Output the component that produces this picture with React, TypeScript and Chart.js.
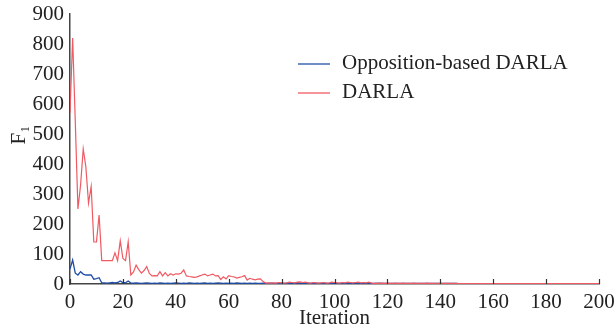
import React, { useEffect, useRef } from "react";
import { Chart, registerables } from "chart.js";

Chart.register(...registerables);

const ITERATIONS: number[] = Array.from({ length: 201 }, (_, i) => i);

const OPPOSITION_DARLA: number[] = [
  50, 80, 36, 30, 41, 33, 30, 30, 30, 16,
  18, 21, 4, 4, 3, 4, 5, 4, 5, 10,
  5, 4, 10, 3, 3, 4, 3, 2, 3, 4,
  3, 2, 3, 2, 4, 3, 2, 3, 2, 3,
  4, 3, 2, 3, 2, 4, 3, 2, 3, 2,
  3, 4, 2, 3, 2, 3, 4, 3, 2, 3,
  2, 3, 2, 4, 3, 2, 3, 2, 3, 2,
  3, 2, 2, 3, 2, 2, 3, 2, 2, 3,
  2, 2, 3, 2, 2, 3, 4, 3, 2, 2,
  3, 2, 2, 3, 2, 2, 3, 2, 2, 2,
  3, 2, 2, 2, 3, 2, 2, 2, 3, 2,
  2, 2, 3, 2, 2, 2, 2, 3, 2, 2,
  2, 2, 2, 2, 2, 2, 2, 2, 2, 2,
  2, 2, 2, 2, 2, 2, 2, 2, 2, 2,
  2, 2, 2, 2, 2, 2, 2, 1, 1, 1,
  1, 1, 1, 1, 1, 1, 1, 1, 1, 1,
  1, 1, 1, 1, 1, 1, 1, 1, 1, 1,
  1, 1, 1, 1, 1, 1, 1, 1, 1, 1,
  1, 1, 1, 1, 1, 1, 1, 1, 1, 1,
  1, 1, 1, 1, 1, 1, 1, 1, 1, 1,
  1,
];

const DARLA: number[] = [
  570, 820, 540, 250, 330, 450, 390, 270, 325, 140,
  140, 230, 78, 78, 78, 78, 78, 104, 78, 144,
  85, 78, 141, 30, 40, 63, 48, 36, 45, 58,
  35, 27, 28, 27, 41, 27, 38, 27, 34, 30,
  34, 33, 36, 47, 27, 25, 24, 22, 24, 27,
  30, 33, 27, 30, 33, 27, 28, 15, 24, 17,
  28, 25, 24, 20, 22, 24, 28, 13, 19, 16,
  14, 16, 17, 8, 3, 4, 3, 4, 3, 5,
  4, 3, 4, 6, 5, 4, 6, 7, 5, 6,
  4, 3, 5, 4, 3, 4, 5, 3, 4, 6,
  5, 4, 3, 5, 4, 6, 5, 4, 5, 6,
  4, 5, 4, 6, 3, 2, 3, 2, 3, 2,
  3, 2, 2, 3, 2, 2, 3, 2, 2, 2,
  3, 2, 2, 2, 2, 3, 2, 2, 2, 2,
  2, 2, 2, 2, 2, 2, 2, 1, 1, 1,
  1, 1, 1, 1, 1, 1, 1, 1, 1, 1,
  1, 1, 1, 1, 1, 1, 1, 1, 1, 1,
  1, 1, 1, 1, 1, 1, 1, 1, 1, 1,
  1, 1, 1, 1, 1, 1, 1, 1, 1, 1,
  1, 1, 1, 1, 1, 1, 1, 1, 1, 1,
  1,
];

const SERIES_LABELS = ["Opposition-based DARLA", "DARLA"];
const SERIES_COLORS = ["#1f4ea6", "#f05a62"];
const X_TITLE = "Iteration";
const Y_TITLE = "F\u2081";

const FONT_FAMILY = "'Liberation Serif', 'Times New Roman', serif";
const FONT_SIZE = 21;

const legendAndTicks = {
  id: "legendAndTicks",
  afterDraw(chart: any) {
    const ctx = chart.ctx;
    const xs = chart.scales.x;
    const area = chart.chartArea;
    ctx.save();
    // inward tick marks on x axis
    ctx.strokeStyle = "#333";
    ctx.lineWidth = 1.2;
    xs.ticks.forEach((t: any) => {
      const px = Math.round(xs.getPixelForValue(t.value)) + 0.5;
      ctx.beginPath();
      ctx.moveTo(px, area.bottom);
      ctx.lineTo(px, area.bottom - 5);
      ctx.stroke();
    });
    ctx.font = `${FONT_SIZE}px ${FONT_FAMILY}`;
    ctx.fillStyle = "#222";
    // x title
    ctx.textAlign = "center";
    ctx.textBaseline = "middle";
    ctx.fillText(X_TITLE, (area.left + area.right) / 2, 318);
    // y title
    ctx.save();
    ctx.translate(25, 135);
    ctx.rotate(-Math.PI / 2);
    ctx.textBaseline = "alphabetic";
    ctx.textAlign = "center";
    ctx.fillText(Y_TITLE, 0, 0);
    ctx.restore();
    // legend
    const lx = 298;
    const ly = 64;
    const gap = 29;
    ctx.textBaseline = "middle";
    ctx.textAlign = "left";
    chart.data.datasets.forEach((ds: any, i: number) => {
      const y = ly + i * gap;
      ctx.strokeStyle = ds.borderColor;
      ctx.lineWidth = 1.3;
      ctx.beginPath();
      ctx.moveTo(lx, y);
      ctx.lineTo(lx + 32, y);
      ctx.stroke();
      ctx.fillStyle = "#222";
      ctx.fillText(ds.label, lx + 44, y - 1);
    });
    ctx.restore();
  },
};

export default function App() {
  const canvasRef = useRef<HTMLCanvasElement | null>(null);

  useEffect(() => {
    if (!canvasRef.current) return;
    const chart = new Chart(canvasRef.current, {
      type: "line",
      data: {
        labels: ITERATIONS,
        datasets: [
          {
            label: SERIES_LABELS[0],
            data: OPPOSITION_DARLA,
            borderColor: SERIES_COLORS[0],
            backgroundColor: SERIES_COLORS[0],
            borderWidth: 1.3,
            pointRadius: 0,
            tension: 0,
            order: 1,
          },
          {
            label: SERIES_LABELS[1],
            data: DARLA,
            borderColor: SERIES_COLORS[1],
            backgroundColor: SERIES_COLORS[1],
            borderWidth: 1.2,
            pointRadius: 0,
            tension: 0,
            order: 0,
          },
        ],
      },
      options: {
        animation: false,
        responsive: false,
        maintainAspectRatio: false,
        layout: { padding: { top: 14, right: 17, left: 0, bottom: 0 } },
        plugins: {
          legend: { display: false },
          tooltip: { enabled: false },
        },
        scales: {
          x: {
            type: "linear",
            min: 0,
            max: 200,
            grid: { display: false, drawTicks: false, tickLength: 0 },
            border: { display: true, color: "#444", width: 1.5 },
            ticks: {
              stepSize: 20,
              color: "#222",
              padding: 6,
              maxRotation: 0,
              font: { family: FONT_FAMILY, size: FONT_SIZE },
            },
            title: { display: false },
            afterFit: (s: any) => {
              s.height = 50;
              s.paddingLeft = 0;
              s.paddingRight = 0;
            },
          },
          y: {
            min: 0,
            max: 900,
            grid: { display: false, drawTicks: false, tickLength: 0 },
            border: { display: true, color: "#444", width: 1.5 },
            ticks: {
              stepSize: 100,
              color: "#222",
              padding: 6,
              font: { family: FONT_FAMILY, size: FONT_SIZE },
            },
            title: { display: false },
            afterFit: (s: any) => {
              s.width = 70;
              s.paddingTop = 0;
              s.paddingBottom = 0;
            },
          },
        },
      },
      plugins: [legendAndTicks],
    } as any);
    return () => chart.destroy();
  }, []);

  return (
    <div style={{ position: "fixed", left: 0, top: 0, width: 616, height: 334, background: "#fff" }}>
      <canvas ref={canvasRef} width={616} height={334} style={{ width: 616, height: 334 }} />
    </div>
  );
}
